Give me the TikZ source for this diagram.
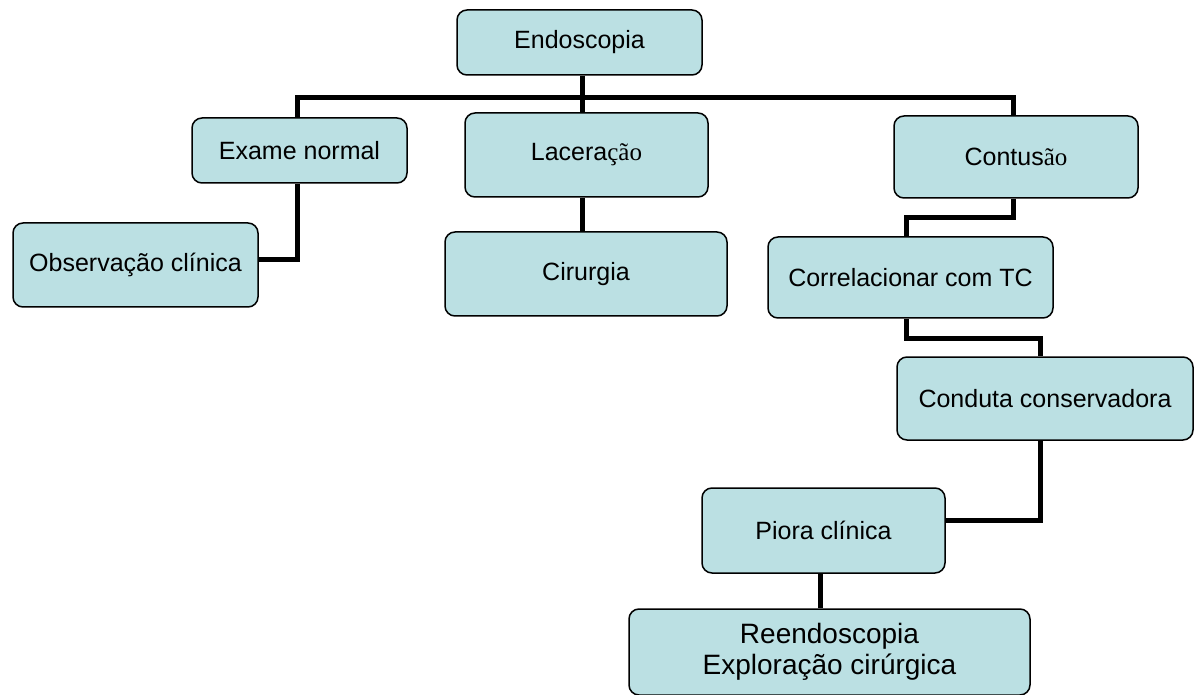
\documentclass[tikz,border=0pt]{standalone}
\usepackage{fontspec}
\setmainfont{Liberation Sans}
\newfontfamily\serifpart{Liberation Serif}
\definecolor{boxfill}{RGB}{187,224,227}
\begin{document}
\begin{tikzpicture}[x=1pt,y=-1pt,
  box/.style={draw=black, line width=1.5pt, fill=boxfill, rounded corners=10pt,
    inner sep=0pt, align=center, font=\fontsize{25}{29}\selectfont},
  link/.style={line width=5pt, draw=black}]
\useasboundingbox (0,0) rectangle (1195,695);
\node[box, minimum width=245, minimum height=65] (endo)  at (579.5,42.5) {Endoscopia};
\node[box, minimum width=215, minimum height=65] (exame) at (299.5,150.5) {Exame normal};
\node[box, minimum width=243, minimum height=84] (lac)   at (586.5,155) {Lacera{\serifpart ção}};
\node[box, minimum width=244, minimum height=82] (cont)  at (1016,157) {Contus{\serifpart ão}};
\node[box, minimum width=245, minimum height=84] (obs)   at (135.5,265) {Observação clínica};
\node[box, minimum width=282, minimum height=84] (cir)   at (586,274) {Cirurgia};
\node[box, minimum width=285, minimum height=81] (corr)  at (910.5,277.5) {Correlacionar com TC};
\node[box, minimum width=296, minimum height=83] (cond)  at (1045,398.5) {Conduta conservadora};
\node[box, minimum width=243, minimum height=85] (piora) at (823.5,530.5) {Piora clínica};
\node[box, minimum width=401, minimum height=86, font=\fontsize{28}{31}\selectfont] (reen) at (829.5,652) {Reendoscopia\\Exploração cirúrgica};
\coordinate (stem) at (582,98);
\draw[link] (endo.south -| stem) -- (lac.north -| stem);
\draw[link] ([xshift=-2.5pt]exame.north) |- (stem) -| ([xshift=-3pt]cont.north);
\draw[link] (lac.south -| stem) -- (cir.north -| stem);
\draw[link] ([xshift=-2.5pt]exame.south) |- ([yshift=5pt]obs.east);
\draw[link] ([xshift=-3pt]cont.south) -- ++(0,19) -| ([xshift=-4.5pt]corr.north);
\draw[link] ([xshift=-4.5pt]corr.south) -- ++(0,20) -| ([xshift=-5pt]cond.north);
\draw[link] ([xshift=-5pt]cond.south) |- ([yshift=10pt]piora.east);
\draw[link] ([xshift=-3.5pt]piora.south) -- ([xshift=-3.5pt]piora.south |- reen.north);
\end{tikzpicture}
\end{document}
